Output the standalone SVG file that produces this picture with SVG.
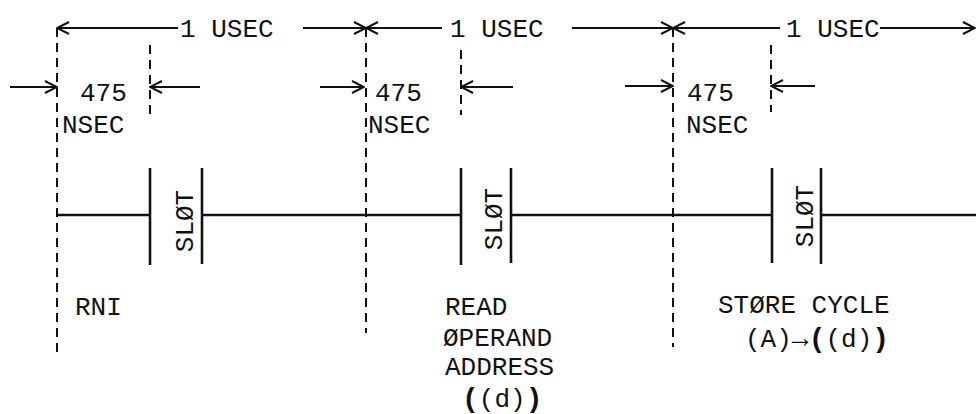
<svg xmlns="http://www.w3.org/2000/svg" width="976" height="414" viewBox="0 0 976 414">
<style>
text{font-family:"Liberation Mono","DejaVu Sans Mono",monospace;font-size:26px;fill:#111}
.ar{stroke:#111;stroke-width:2.2;fill:none;marker-end:url(#arr)}
.dash{stroke:#111;stroke-width:2;stroke-dasharray:9 6;fill:none}
.tl{stroke:#111;stroke-width:2.6;fill:none}
.bar{stroke:#111;stroke-width:2.6;fill:none}
.bp{font-weight:bold;font-size:28px}
</style>
<defs>
<marker id="arr" viewBox="0 0 14 14" refX="13" refY="7" markerWidth="14" markerHeight="14" markerUnits="userSpaceOnUse" orient="auto">
<path d="M1,1 L13,7 L1,13" stroke="#111" stroke-width="2" fill="none"/>
</marker>
</defs>
<rect width="976" height="414" fill="#fff"/>
<g id="connectors">
<line class="ar" x1="178" y1="28" x2="57" y2="28"/>
<line class="ar" x1="303" y1="28" x2="366" y2="28"/>
<line class="ar" x1="442" y1="28" x2="366" y2="28"/>
<line class="ar" x1="572" y1="28" x2="673" y2="28"/>
<line class="ar" x1="780" y1="28" x2="673" y2="28"/>
<line class="ar" x1="880" y1="28" x2="975" y2="28"/>
<line class="ar" x1="10" y1="87" x2="57" y2="87"/>
<line class="ar" x1="200" y1="87" x2="150" y2="87"/>
<line class="ar" x1="320" y1="87" x2="364" y2="87"/>
<line class="ar" x1="513" y1="87" x2="461" y2="87"/>
<line class="ar" x1="625" y1="86" x2="673" y2="86"/>
<line class="ar" x1="815" y1="86" x2="771" y2="86"/>
</g>
<g id="cycle1">
<line class="dash" x1="57" y1="28" x2="57" y2="352"/>
<line class="dash" x1="150" y1="45" x2="150" y2="115"/>
<text x="180" y="37">1 USEC</text>
<text x="80" y="101">475</text>
<text x="62" y="133">NSEC</text>
<text x="75" y="315">RNI</text>
</g>
<g id="cycle2">
<line class="dash" x1="366" y1="28" x2="366" y2="333"/>
<line class="dash" x1="461" y1="50" x2="461" y2="115"/>
<text x="450" y="37">1 USEC</text>
<text x="375" y="101">475</text>
<text x="368" y="133">NSEC</text>
<text x="445" y="315">READ</text>
<text x="443" y="346">ØPERAND</text>
<text x="445" y="375">ADDRESS</text>
<text x="462" y="407"><tspan class="bp">(</tspan>(d)<tspan class="bp">)</tspan></text>
</g>
<g id="cycle3">
<line class="dash" x1="673" y1="28" x2="673" y2="347"/>
<line class="dash" x1="771" y1="45" x2="771" y2="112"/>
<text x="786" y="37">1 USEC</text>
<text x="687" y="101">475</text>
<text x="686" y="133">NSEC</text>
<text x="718" y="313">STØRE CYCLE</text>
<text x="745" y="347">(A)<tspan class="bp">→</tspan><tspan class="bp">(</tspan>(d)<tspan class="bp">)</tspan></text>
</g>
<g id="timeline">
<line class="tl" x1="57" y1="215" x2="150" y2="215"/>
<line class="tl" x1="202" y1="215" x2="461" y2="215"/>
<line class="tl" x1="511" y1="215" x2="772" y2="215"/>
<line class="tl" x1="821" y1="215" x2="976" y2="215"/>
</g>
<g id="slot1">
<line class="bar" x1="150" y1="168" x2="150" y2="265"/>
<line class="bar" x1="202" y1="168" x2="202" y2="264"/>
<text transform="translate(193,221) rotate(-90)" text-anchor="middle">SLØT</text>
</g>
<g id="slot2">
<line class="bar" x1="461" y1="168" x2="461" y2="265"/>
<line class="bar" x1="511" y1="168" x2="511" y2="263"/>
<text transform="translate(502,219) rotate(-90)" text-anchor="middle">SLØT</text>
</g>
<g id="slot3">
<line class="bar" x1="772" y1="168" x2="772" y2="263"/>
<line class="bar" x1="821" y1="168" x2="821" y2="264"/>
<text transform="translate(813,216) rotate(-90)" text-anchor="middle">SLØT</text>
</g>
</svg>
